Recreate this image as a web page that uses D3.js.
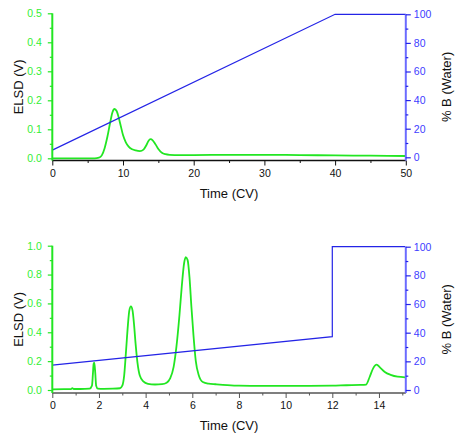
<!DOCTYPE html>
<html><head><meta charset="utf-8">
<script src="https://cdn.jsdelivr.net/npm/d3@7"></script>
<style>body{margin:0;background:#fff;} text{font-family:Arial,"Liberation Sans",sans-serif;}</style>
</head><body><svg id="c" width="462" height="438"></svg>
<script>
// ---- Top chart data ----
const topTime = [0,3,6,6.6,7.0,7.4,7.8,8.2,8.5,8.8,9.1,9.4,9.7,10.0,10.4,10.8,11.3,11.8,12.4,12.9,13.3,13.6,13.9,14.2,14.6,15.0,15.5,16.0,16.6,18,20,25,30,35,40,45,50];
const topElsd = [0,0,0,0.002,0.01,0.035,0.075,0.125,0.158,0.17,0.163,0.14,0.11,0.08,0.055,0.04,0.031,0.027,0.025,0.03,0.045,0.06,0.066,0.062,0.048,0.032,0.019,0.014,0.012,0.011,0.011,0.012,0.012,0.011,0.010,0.009,0.008];
const topGradTime = [0,40,50];
const topGradB = [5,100,100];
const topXTicks = [0,10,20,30,40,50];
const topYTicks = [0,0.1,0.2,0.3,0.4,0.5];
const topRTicks = [0,20,40,60,80,100];

// ---- Bottom chart data ----
const botTime = [0,0.5,0.8,0.86,0.92,1.2,1.6,1.7,1.74,1.77,1.8,1.84,1.88,1.95,2.2,2.6,2.9,3.0,3.08,3.16,3.24,3.3,3.37,3.44,3.5,3.57,3.65,3.75,3.9,4.1,4.4,4.7,4.9,5.05,5.2,5.32,5.45,5.55,5.65,5.72,5.8,5.88,5.96,6.05,6.15,6.28,6.45,6.7,7.0,7.5,8,9,10,11,12,12.6,13.2,13.45,13.6,13.75,13.9,14.05,14.25,14.5,14.8,15.13];
const botElsd = [0.005,0.006,0.006,0.013,0.007,0.007,0.009,0.03,0.11,0.18,0.19,0.12,0.03,0.01,0.008,0.009,0.012,0.03,0.1,0.27,0.45,0.55,0.58,0.55,0.46,0.32,0.19,0.1,0.06,0.043,0.038,0.04,0.05,0.08,0.16,0.3,0.52,0.72,0.88,0.92,0.9,0.78,0.58,0.38,0.2,0.1,0.055,0.044,0.04,0.034,0.03,0.028,0.029,0.029,0.03,0.033,0.035,0.038,0.09,0.15,0.176,0.155,0.125,0.105,0.092,0.088];
const botGradTime = [0,12,12,15.13];
const botGradB = [17.4,37.2,100,100];
const botXTicks = [0,2,4,6,8,10,12,14];
const botYTicks = [0,0.2,0.4,0.6,0.8,1.0];
const botRTicks = [0,20,40,60,80,100];

const GREEN = "#22e622", GREENTXT = "#33ee33", BLUE = "#2424e6", BLUEAX = "#6b6bff", BLUETXT = "#4040ff";
const svg = d3.select("#c");

function panel(o) {
  const g = svg.append("g");
  const x = d3.scaleLinear().domain(o.xDom).range([52.3, 405.8]);
  const yL = d3.scaleLinear().domain([0, o.yMax]).range([o.y0, o.yTop]);
  const yR = d3.scaleLinear().domain([0, 100]).range([o.r0, o.rTop]);
  const axisY = o.axisY;

  const gl = d3.line().x((d,i)=>x(o.t[i])).y((d)=>yL(d)).curve(d3.curveMonotoneX);
  g.append("path").attr("d", gl(o.e)).attr("fill","none").attr("stroke",GREEN).attr("stroke-width",1.8);
  const bl = d3.line().x((d,i)=>x(o.gt[i])).y(d=>yR(d));
  g.append("path").attr("d", bl(o.gb)).attr("fill","none").attr("stroke",BLUE).attr("stroke-width",1.2);

  const xAx = g.append("g").attr("transform",`translate(0,${axisY})`)
    .call(d3.axisBottom(x).tickValues(o.xTicks).tickSize(5).tickPadding(4).tickFormat(d3.format("d")));
  xAx.select(".domain").attr("stroke",o.xAxisColor).attr("stroke-width",1.5).attr("d",`M${x.range()[0]},0H${x.range()[1]}`);
  xAx.selectAll(".tick line").attr("stroke",o.xAxisColor).attr("stroke-width",1);
  xAx.selectAll("text").attr("font-size",10.5).attr("fill","#111").attr("font-family","Arial, Liberation Sans, sans-serif");
  const xm = g.append("g").attr("transform",`translate(0,${axisY})`)
    .call(d3.axisBottom(x).tickValues(o.xMinor).tickSize(2.5).tickFormat(""));
  xm.select(".domain").remove(); xm.selectAll(".tick line").attr("stroke",o.xAxisColor);

  const lAx = g.append("g").attr("transform","translate(52.3,0)")
    .call(d3.axisLeft(yL).tickValues(o.yTicks).tickSize(4.5).tickPadding(6).tickFormat(d3.format(".1f")));
  lAx.select(".domain").attr("stroke",GREEN).attr("stroke-width",2).attr("d",`M0,${o.yTop}V${axisY}`);
  lAx.selectAll(".tick line").attr("stroke",GREEN).attr("stroke-width",1.2);
  lAx.selectAll("text").attr("font-size",10.5).attr("fill",GREENTXT).attr("font-family","Arial, Liberation Sans, sans-serif");
  const lm = g.append("g").attr("transform","translate(52.3,0)")
    .call(d3.axisLeft(yL).tickValues(o.yMinor).tickSize(2.5).tickFormat(""));
  lm.select(".domain").remove(); lm.selectAll(".tick line").attr("stroke",GREEN).attr("stroke-width",1.2);

  const rAx = g.append("g").attr("transform","translate(405.8,0)")
    .call(d3.axisRight(yR).tickValues(o.rTicks).tickSize(5).tickPadding(3).tickFormat(d3.format("d")));
  rAx.select(".domain").attr("stroke",BLUEAX).attr("stroke-width",2).attr("d",`M0,${o.rTop}V${axisY}`);
  rAx.selectAll(".tick line").attr("stroke",BLUE).attr("stroke-width",1.2);
  rAx.selectAll("text").attr("font-size",10.5).attr("fill",BLUETXT).attr("font-family","Arial, Liberation Sans, sans-serif");
  const rm = g.append("g").attr("transform","translate(405.8,0)")
    .call(d3.axisRight(yR).tickValues(d3.range(10,100,20)).tickSize(2.5).tickFormat(""));
  rm.select(".domain").remove(); rm.selectAll(".tick line").attr("stroke",BLUE).attr("stroke-width",1.2);

  g.append("text").attr("x",229).attr("y",axisY+37).attr("text-anchor","middle").attr("font-size",13).attr("fill","#111").text("Time (CV)");
  const cy = (o.yTop + axisY)/2;
  g.append("text").attr("transform",`translate(23,${cy}) rotate(-90)`).attr("text-anchor","middle").attr("font-size",13).attr("fill","#111").text("ELSD (V)");
  g.append("text").attr("transform",`translate(450.5,${cy}) rotate(-90)`).attr("text-anchor","middle").attr("font-size",13).attr("fill","#111").text("% B (Water)");
}

panel({xDom:[0,50], yMax:0.5, y0:158.3, yTop:13.3, r0:157.3, rTop:14.3, axisY:160.5, xAxisColor:"#111",
  t:topTime, e:topElsd, gt:topGradTime, gb:topGradB,
  xTicks:topXTicks, xMinor:[5,15,25,35,45], yTicks:topYTicks, yMinor:[0.05,0.15,0.25,0.35,0.45], rTicks:topRTicks});

panel({xDom:[0,15.15], yMax:1.0, y0:390, yTop:245.7, r0:390, rTop:246.7, axisY:393, xAxisColor:"#555",
  t:botTime, e:botElsd, gt:botGradTime, gb:botGradB,
  xTicks:botXTicks, xMinor:[1,3,5,7,9,11,13,15], yTicks:botYTicks, yMinor:[0.1,0.3,0.5,0.7,0.9], rTicks:botRTicks});
</script></body></html>
